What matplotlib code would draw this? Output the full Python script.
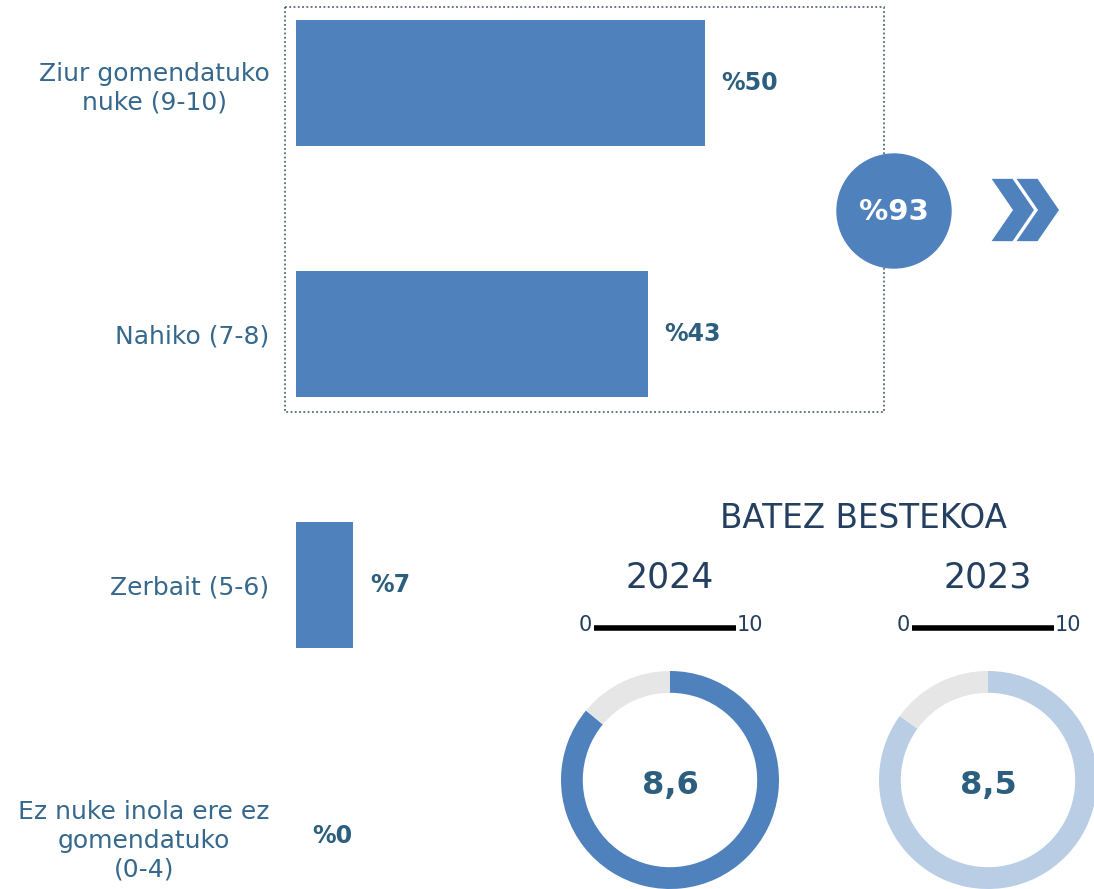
import matplotlib
matplotlib.use('Agg')
import matplotlib.pyplot as plt
from matplotlib.patches import Rectangle, Circle, Polygon

plt.rcParams['font.family'] = ['DejaVu Sans']

# datuak
categories = ['Ziur gomendatuko\nnuke (9-10)', 'Nahiko (7-8)', 'Zerbait (5-6)',
              'Ez nuke inola ere ez\ngomendatuko\n(0-4)']
shares = [50, 43, 7, 0]
years = ['2024', '2023']
means = [8.6, 8.5]
scale_max = 10

BAR = '#4F81BD'
LIGHT = '#B9CDE5'
GREY = '#E6E6E6'
LABEL = '#35688C'
VALUE = '#2C5F7F'
NAVY = '#243F60'

W, H = 1094, 889
fig = plt.figure(figsize=(W / 100, H / 100), dpi=100)

# barra horizontalak
ax = fig.add_axes([296 / W, 0, 736 / W, 1])
ypos = list(range(len(categories)))
ax.barh(ypos, shares, height=0.5, color=BAR)
ax.set_xlim(0, 90)
ax.set_ylim(3.211, -0.331)
ax.set_yticks(ypos)
ax.set_yticklabels(categories, fontsize=18, color=LABEL, multialignment='center',
                   linespacing=1.25)
ax.tick_params(axis='y', length=0, pad=19)
ax.set_xticks([])
for s in ax.spines.values():
    s.set_visible(False)
ax.patch.set_visible(False)
for y, v in zip(ypos, shares):
    ax.annotate(f'%{v}', (v, y), xytext=(12, 0), textcoords='offset points',
                ha='left', va='center', fontsize=17, fontweight='bold', color=VALUE)

# apaingarriak, pixel koordenatuetan
ov = fig.add_axes([0, 0, 1, 1])
ov.set_xlim(0, W)
ov.set_ylim(H, 0)
ov.axis('off')

ov.add_patch(Rectangle((285, 7), 599, 405, fill=False, ls=(0, (1.2, 1.6)), lw=1.1,
                       ec='#3F4F66'))
ov.add_patch(Circle((894, 211), 57, color=BAR, zorder=3))
ov.text(894, 212, f'%{shares[0] + shares[1]}', ha='center', va='center', fontsize=21,
        fontweight='bold', color='white', zorder=4)
for dx in (0, 25):
    pts = [(990 + dx, 178), (1013 + dx, 178), (1035 + dx, 210), (1013 + dx, 242),
           (990 + dx, 242), (1012 + dx, 210)]
    ov.add_patch(Polygon(pts, closed=True, fc=BAR, ec='white', lw=1.2))

ov.text(863, 519, 'BATEZ BESTEKOA', ha='center', va='center', fontsize=23.5, color=NAVY)

centers = [670, 988]
for cx, yr in zip(centers, years):
    ov.text(cx, 578, yr, ha='center', va='center', fontsize=25, color=NAVY)
    ov.plot([cx - 76, cx + 66], [628, 628], color='black', lw=4, solid_capstyle='butt')
    ov.text(cx - 78, 625, '0', ha='right', va='center', fontsize=15, color=NAVY)
    ov.text(cx + 67, 625, '10', ha='left', va='center', fontsize=15, color=NAVY)

# donutak
r = 109
for cx, m, col in zip(centers, means, [BAR, LIGHT]):
    dax = fig.add_axes([(cx - r) / W, 0, 2 * r / W, 2 * r / H])
    dax.pie([m, scale_max - m], colors=[col, GREY], startangle=90, counterclock=False,
            radius=1, wedgeprops=dict(width=0.2, edgecolor='none'))
    dax.set_xlim(-1, 1)
    dax.set_ylim(-1, 1)
    dax.set_aspect('equal')
    dax.axis('off')
    dax.text(0, -0.05, f'{m:.1f}'.replace('.', ','), ha='center', va='center',
             fontsize=23, fontweight='bold', color=VALUE)

fig.savefig('out.png', dpi=100)
